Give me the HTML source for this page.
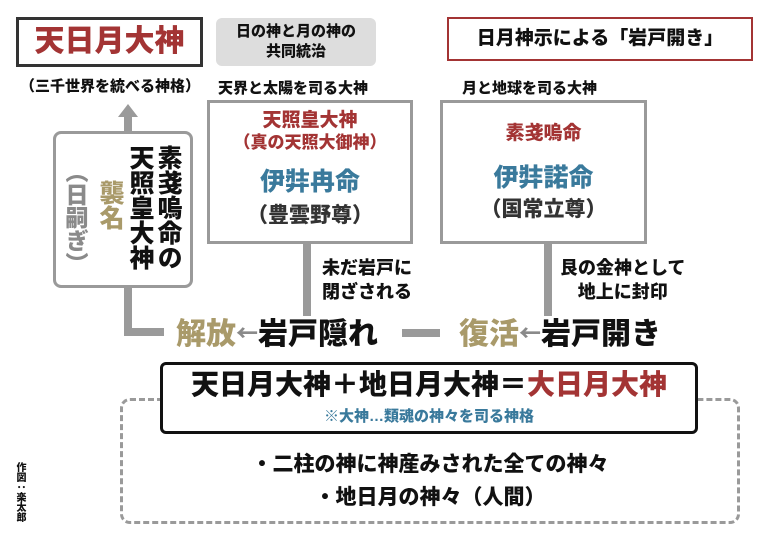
<!DOCTYPE html>
<html><head><meta charset="utf-8"><style>
body{margin:0;width:769px;height:546px;background:#fff;position:relative;overflow:hidden;font-family:"Liberation Sans","Noto Sans CJK JP",sans-serif;font-weight:900;color:#111}
.a{position:absolute;white-space:nowrap}
.v{position:absolute;writing-mode:vertical-rl;line-height:1}
.red{color:#a33434}.blue{color:#3a7a9c}.gold{color:#a99a6a}.gray{color:#8a8a8a}
.bar{position:absolute;background:#9a9a9a}
</style></head><body>
<div class="a" style="left:16px;top:17px;width:181px;height:44px;border:3px solid #333;"></div>
<div class="a red" style="left:16px;top:20px;width:187px;text-align:center;font-size:30px;line-height:44px">天日月大神</div>
<div class="a" style="left:14px;top:75px;width:192px;text-align:center;font-size:15px">（三千世界を統べる神格）</div>

<div class="a" style="left:216px;top:18px;width:160px;height:48px;background:#ddd;border-radius:6px"></div>
<div class="a" style="left:216px;top:22px;width:160px;text-align:center;font-size:15px;line-height:20px">日の神と月の神の<br>共同統治</div>

<div class="a" style="left:447px;top:17px;width:302px;height:40px;border:2px solid #a33434"></div>
<div class="a" style="left:447px;top:19px;width:306px;text-align:center;font-size:19px;line-height:40px">日月神示による「岩戸開き」</div>

<div class="a" style="left:218px;top:77px;font-size:15px">天界と太陽を司る大神</div>
<div class="a" style="left:462px;top:77px;font-size:15px">月と地球を司る大神</div>

<div class="a" style="left:207px;top:100px;width:200px;height:138px;border:3px solid #9a9a9a"></div>
<div class="a red" style="left:207px;top:110px;width:206px;text-align:center;font-size:19px;line-height:22px">天照皇大神<br><span style="font-size:17px">（真の天照大御神）</span></div>
<div class="a blue" style="left:207px;top:168px;width:206px;text-align:center;font-size:25px;line-height:28px">伊弉冉命</div>
<div class="a" style="left:207px;top:199px;width:206px;text-align:center;font-size:21px;color:#333">（豊雲野尊）</div>

<div class="a" style="left:440px;top:100px;width:201px;height:138px;border:3px solid #9a9a9a"></div>
<div class="a red" style="left:440px;top:118px;width:207px;text-align:center;font-size:19px">素戔嗚命</div>
<div class="a blue" style="left:440px;top:164px;width:207px;text-align:center;font-size:25px;line-height:28px">伊弉諾命</div>
<div class="a" style="left:440px;top:193px;width:207px;text-align:center;font-size:21px;color:#333">（国常立尊）</div>

<div class="a" style="left:53px;top:131px;width:134px;height:151px;border:3px solid #9a9a9a;border-radius:8px"></div>
<div class="bar" style="left:124px;top:116px;width:8px;height:16px"></div>
<div class="a" style="left:118px;top:104px;width:0;height:0;border-left:10px solid transparent;border-right:10px solid transparent;border-bottom:13px solid #9a9a9a"></div>
<div class="bar" style="left:124px;top:286px;width:8px;height:50px"></div>
<div class="bar" style="left:124px;top:328px;width:40px;height:8px"></div>
<div class="v" style="left:155px;top:145px;font-size:25px">素戔嗚命の</div>
<div class="v" style="left:127px;top:145px;font-size:25px">天照皇大神</div>
<div class="v gold" style="left:97px;top:180px;font-size:25px">襲名</div>
<div class="v gray" style="left:63px;top:160px;font-size:23px">（日嗣ぎ）</div>

<div class="bar" style="left:303px;top:241px;width:8px;height:75px"></div>
<div class="bar" style="left:544px;top:241px;width:8px;height:75px"></div>
<div class="a" style="left:322px;top:256px;font-size:18px;line-height:24px">未だ岩戸に<br>閉ざされる</div>
<div class="a" style="left:560px;top:256px;font-size:18px;line-height:24px;text-align:center">艮の金神として<br>地上に封印</div>

<div class="a" style="left:176px;top:314px;font-size:30px;line-height:36px"><span class="gold">解放</span><span class="gray" style="font-family:'Noto Sans CJK JP',sans-serif;font-size:22px;vertical-align:3px">←</span>岩戸隠れ</div>
<div class="bar" style="left:402px;top:329px;width:38px;height:8px"></div>
<div class="a" style="left:459px;top:314px;font-size:30px;line-height:36px"><span class="gold">復活</span><span class="gray" style="font-family:'Noto Sans CJK JP',sans-serif;font-size:22px;vertical-align:3px">←</span>岩戸開き</div>

<div class="a" style="left:120px;top:398px;width:614px;height:120px;border:3px dashed #9a9a9a;border-radius:10px"></div>
<div class="a" style="left:160px;top:362px;width:532px;height:66px;border:3px solid #111;border-radius:6px;background:#fff"></div>
<div class="a" style="left:160px;top:366px;width:538px;text-align:center;font-size:28px;line-height:38px">天日月大神＋地日月大神＝<span class="red">大日月大神</span></div>
<div class="a blue" style="left:160px;top:405px;width:538px;text-align:center;font-size:15px">※大神…類魂の神々を司る神格</div>
<div class="a" style="left:120px;top:448px;width:620px;text-align:center;font-size:21px">・二柱の神に神産みされた全ての神々</div>
<div class="a" style="left:120px;top:481px;width:620px;text-align:center;font-size:21px">・地日月の神々（人間）</div>
<div class="v" style="left:14px;top:462px;font-size:10px">作図：楽太郎</div>
</body></html>
